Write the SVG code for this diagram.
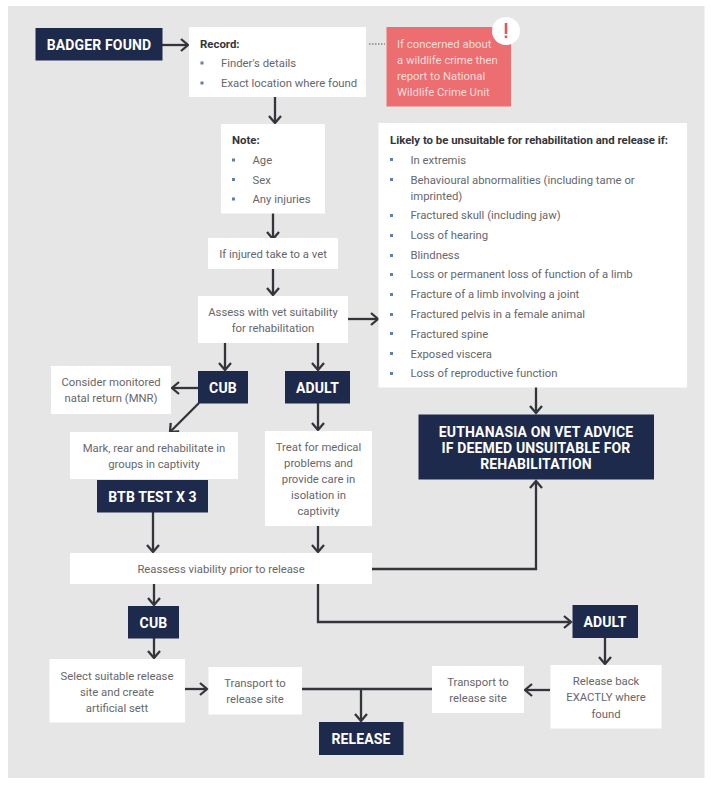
<svg xmlns="http://www.w3.org/2000/svg" width="713" height="787" viewBox="0 0 713 787">
<style>
text{font-family:Roboto,"Liberation Sans",sans-serif}
.w{fill:#fff}.d{fill:#1e2a4c}
.t{font-size:11.300px;fill:#66676b}
.m{text-anchor:middle}
.b{font-size:11.400px;font-weight:700;fill:#33353b}
.h{font-size:14px;font-weight:700;fill:#fff;text-anchor:middle;letter-spacing:.15px}
.r{font-size:11.300px;fill:#fbdcdc}
.u{fill:#5f7fb0}
.c{fill:none;stroke:#33353b;stroke-width:2.300}
</style>
<defs><marker id="a" viewBox="0 0 14 14" refX="12" refY="7" markerWidth="14" markerHeight="14" markerUnits="userSpaceOnUse" orient="auto"><path d="M5 1L12 7L5 13" fill="none" stroke="#33353b" stroke-width="2.300"/></marker></defs>
<rect x="0" y="0" width="713" height="787" fill="#fff"/>
<rect x="8" y="6" width="696.500" height="772" fill="#e6e6e7"/>
<g id="connectors">
<path class="c" d="M162 45H188" marker-end="url(#a)"/>
<path d="M369 44H385" fill="none" stroke="#55565a" stroke-width="1" stroke-dasharray="1.500 1.500"/>
<path class="c" d="M275 97V123" marker-end="url(#a)"/>
<path class="c" d="M273 213V239" marker-end="url(#a)"/>
<path class="c" d="M273 269V295" marker-end="url(#a)"/>
<path class="c" d="M348 319H378" marker-end="url(#a)"/>
<path class="c" d="M225 343V370" marker-end="url(#a)"/>
<path class="c" d="M318 343V370" marker-end="url(#a)"/>
<path class="c" d="M198 388H172" marker-end="url(#a)"/>
<path class="c" d="M199 403L170 432" marker-end="url(#a)"/>
<path class="c" d="M318 403V430" marker-end="url(#a)"/>
<path class="c" d="M153 512V552" marker-end="url(#a)"/>
<path class="c" d="M318 526V552" marker-end="url(#a)"/>
<path class="c" d="M372 569H536V481" marker-end="url(#a)"/>
<path class="c" d="M536 387V413" marker-end="url(#a)"/>
<path class="c" d="M154 584V605" marker-end="url(#a)"/>
<path class="c" d="M154 638V658" marker-end="url(#a)"/>
<path class="c" d="M318 584V622H571" marker-end="url(#a)"/>
<path class="c" d="M605 638V664" marker-end="url(#a)"/>
<path class="c" d="M550 690H525" marker-end="url(#a)"/>
<path class="c" d="M185 689H207" marker-end="url(#a)"/>
<path class="c" d="M302 689H432"/>
<path class="c" d="M361 689V721" marker-end="url(#a)"/>
</g>
<g id="badger-found"><rect class="d" x="35.500" y="28" width="127" height="32.500"/><text class="h" x="99" y="50">BADGER FOUND</text></g>
<g id="record"><rect class="w" x="189" y="27" width="177" height="70"/><text class="b" x="200" y="48">Record:</text><rect class="u" x="200.500" y="61.500" width="3" height="3"/><text class="t" x="221" y="67">Finder's details</text><rect class="u" x="200.500" y="81.500" width="3" height="3"/><text class="t" x="221" y="87">Exact location where found</text></g>
<g id="crime"><rect x="386.500" y="27" width="124.500" height="79.500" fill="#ec6e70"/><text class="r" x="397" y="47.500">If concerned about</text><text class="r" x="397" y="63.500">a wildlife crime then</text><text class="r" x="397" y="79.500">report to National</text><text class="r" x="397" y="95.500">Wildlife Crime Unit</text><circle cx="506" cy="31" r="14" fill="#fff"/><rect x="504.700" y="23" width="2.600" height="11" fill="#e0585c"/><rect x="504.700" y="35.500" width="2.600" height="2.600" fill="#e0585c"/></g>
<g id="note"><rect class="w" x="221" y="124" width="104" height="89.500"/><text class="b" x="232" y="144">Note:</text><rect class="u" x="232" y="158.500" width="3" height="3"/><text class="t" x="252.500" y="164">Age</text><rect class="u" x="232" y="178" width="3" height="3"/><text class="t" x="252.500" y="183.500">Sex</text><rect class="u" x="232" y="197.500" width="3" height="3"/><text class="t" x="252.500" y="203">Any injuries</text></g>
<g id="injured"><rect class="w" x="208" y="238" width="130" height="31"/><text class="t m" x="273" y="258">If injured take to a vet</text></g>
<g id="assess"><rect class="w" x="198" y="296" width="150" height="47"/><text class="t m" x="273" y="316">Assess with vet suitability</text><text class="t m" x="273" y="332">for rehabilitation</text></g>
<g id="unsuitable"><rect class="w" x="378.500" y="123" width="308.500" height="264.500"/>
<text class="b" x="390" y="144">Likely to be unsuitable for rehabilitation and release if:</text>
<g class="u"><rect x="390" y="158" width="3" height="3"/><rect x="390" y="178" width="3" height="3"/><rect x="390" y="214" width="3" height="3"/><rect x="390" y="234" width="3" height="3"/><rect x="390" y="254" width="3" height="3"/><rect x="390" y="273" width="3" height="3"/><rect x="390" y="293" width="3" height="3"/><rect x="390" y="313" width="3" height="3"/><rect x="390" y="332" width="3" height="3"/><rect x="390" y="352" width="3" height="3"/><rect x="390" y="372" width="3" height="3"/></g>
<text class="t" x="410.500" y="164">In extremis</text><text class="t" x="410.500" y="183.500">Behavioural abnormalities (including tame or</text><text class="t" x="410.500" y="199.500">imprinted)</text><text class="t" x="410.500" y="219">Fractured skull (including jaw)</text><text class="t" x="410.500" y="239">Loss of hearing</text><text class="t" x="410.500" y="259">Blindness</text><text class="t" x="410.500" y="278">Loss or permanent loss of function of a limb</text><text class="t" x="410.500" y="298">Fracture of a limb involving a joint</text><text class="t" x="410.500" y="318">Fractured pelvis in a female animal</text><text class="t" x="410.500" y="337.500">Fractured spine</text><text class="t" x="410.500" y="357.500">Exposed viscera</text><text class="t" x="410.500" y="377">Loss of reproductive function</text></g>
<g id="cub-1"><rect class="d" x="198" y="371" width="50" height="32.500"/><text class="h" x="223" y="393">CUB</text></g>
<g id="adult-1"><rect class="d" x="285" y="371" width="65" height="32.500"/><text class="h" x="317.500" y="393">ADULT</text></g>
<g id="mnr"><rect class="w" x="51" y="366" width="120" height="48"/><text class="t m" x="111" y="386">Consider monitored</text><text class="t m" x="111" y="402">natal return (MNR)</text></g>
<g id="mark"><rect class="w" x="70" y="432" width="168" height="47"/><text class="t m" x="154" y="452">Mark, rear and rehabilitate in</text><text class="t m" x="154" y="468">groups in captivity</text></g>
<g id="btb"><rect class="d" x="97" y="480" width="111" height="32.500"/><text class="h" x="152.500" y="502">BTB TEST X 3</text></g>
<g id="treat"><rect class="w" x="265" y="431" width="107" height="95"/><text class="t m" x="318.500" y="451">Treat for medical</text><text class="t m" x="318.500" y="467">problems and</text><text class="t m" x="318.500" y="483">provide care in</text><text class="t m" x="318.500" y="499">isolation in</text><text class="t m" x="318.500" y="515">captivity</text></g>
<g id="euthanasia"><rect class="d" x="418.500" y="414.500" width="235.500" height="65"/><text class="h" x="536" y="437">EUTHANASIA ON VET ADVICE</text><text class="h" x="536" y="453">IF DEEMED UNSUITABLE FOR</text><text class="h" x="536" y="469">REHABILITATION</text></g>
<g id="reassess"><rect class="w" x="70" y="553" width="302" height="31"/><text class="t m" x="221" y="573">Reassess viability prior to release</text></g>
<g id="cub-2"><rect class="d" x="128" y="606" width="51" height="32.500"/><text class="h" x="153.500" y="628">CUB</text></g>
<g id="adult-2"><rect class="d" x="572.500" y="605" width="65.500" height="33"/><text class="h" x="605" y="627">ADULT</text></g>
<g id="select"><rect class="w" x="49.500" y="659" width="135.500" height="63.500"/><text class="t m" x="117" y="680">Select suitable release</text><text class="t m" x="117" y="696">site and create</text><text class="t m" x="117" y="712">artificial sett</text></g>
<g id="transport-1"><rect class="w" x="208.500" y="667" width="93.500" height="47.500"/><text class="t m" x="255" y="687">Transport to</text><text class="t m" x="255" y="703">release site</text></g>
<g id="transport-2"><rect class="w" x="432" y="666" width="92" height="47"/><text class="t m" x="478" y="686">Transport to</text><text class="t m" x="478" y="702">release site</text></g>
<g id="release-back"><rect class="w" x="550.500" y="665" width="111" height="63.500"/><text class="t m" x="606" y="685">Release back</text><text class="t m" x="606" y="701">EXACTLY where</text><text class="t m" x="606" y="718">found</text></g>
<g id="release"><rect class="d" x="319" y="722" width="84.500" height="33"/><text class="h" x="361" y="744">RELEASE</text></g>
</svg>
